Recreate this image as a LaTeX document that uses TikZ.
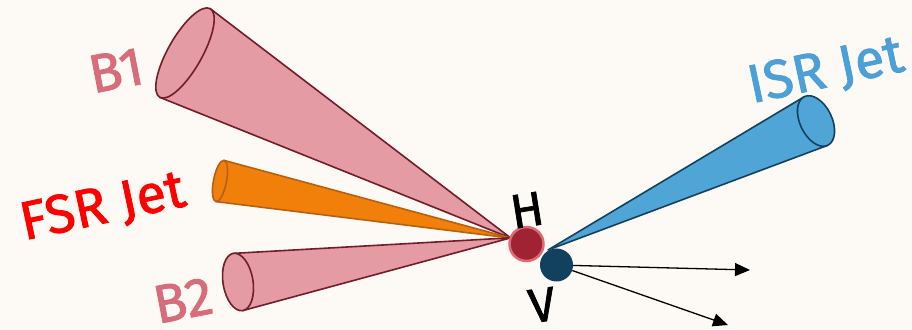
\documentclass[tikz,border=0pt]{standalone}
\usepackage{fontspec}
\setmainfont[FakeBold=1.5]{Fira Sans}
\usetikzlibrary{arrows.meta}
\definecolor{cream}{RGB}{253,249,245}
\definecolor{bpink}{RGB}{228,155,164}
\definecolor{bline}{RGB}{115,28,42}
\definecolor{btext}{RGB}{215,108,122}
\definecolor{fsrorange}{RGB}{240,128,10}
\definecolor{fsrline}{RGB}{182,96,16}
\definecolor{isrblue}{RGB}{80,165,215}
\definecolor{isrline}{RGB}{20,65,95}
\definecolor{isrtext}{RGB}{75,160,215}
\definecolor{hred}{RGB}{160,35,52}
\definecolor{hring}{RGB}{225,105,116}
\definecolor{vnavy}{RGB}{18,65,95}
\tikzset{
  bcone/.style   ={fill=bpink, draw=bline, line width=1.6pt, line join=round},
  fsrcone/.style ={fill=fsrorange, draw=fsrline, line width=1.6pt, line join=round},
  isrcone/.style ={fill=isrblue, draw=isrline, line width=1.6pt, line join=round},
  jetlabel/.style={font=\fontsize{54}{54}\selectfont, inner sep=0pt},
  hdot/.style    ={circle, fill=hred, draw=hring, line width=2.5pt, minimum size=34pt, inner sep=0pt},
  vdot/.style    ={circle, fill=vnavy, minimum size=33pt, inner sep=0pt},
  vecarr/.style  ={-{Triangle[length=15pt, width=13pt]}, line width=1.3pt, color=black},
}
\begin{document}
\begin{tikzpicture}[x=1pt, y=1pt]
\fill[cream] (0,0) rectangle (912,329);
\useasboundingbox (0,0) rectangle (912,329);

\coordinate (hapex) at (511,91);
\coordinate (israpex) at (548,79);

% b jets and FSR jet, all from the H
\begin{scope}[shift={(185,276)}, rotate=150.4]
  \filldraw[bcone] (-374.8,0) -- (0,51) -- (0,-51) -- cycle;
  \filldraw[bcone] (0,0) ellipse [x radius=17, y radius=51];
\end{scope}
\begin{scope}[shift={(220,148)}, rotate=168.9]
  \filldraw[fsrcone] (-296.5,0) -- (0,21) -- (0,-21) -- cycle;
  \filldraw[fsrcone] (0,0) ellipse [x radius=6.5, y radius=21];
\end{scope}
\begin{scope}[shift={(238,47)}, rotate=189.2]
  \filldraw[bcone] (-276.5,0) -- (0,29) -- (0,-29) -- cycle;
  \filldraw[bcone] (0,0) ellipse [x radius=15, y radius=29];
\end{scope}

% ISR jet from the V
\begin{scope}[shift={(816,208)}, rotate=25.7]
  \filldraw[isrcone] (-297.4,0) -- (0,27) -- (0,-27) -- cycle;
  \filldraw[isrcone] (0,0) ellipse [x radius=16, y radius=27];
\end{scope}

\node[hdot] (higgs) at (526.5,85) {};
\node[vdot] (vbos) at (556.5,64) {};

\coordinate (lep1) at (750,59);
\coordinate (lep2) at (728,4);
\draw[vecarr] (vbos) -- (lep1);
\draw[vecarr] (vbos) -- (lep2);

\node[jetlabel, text=btext, rotate=11] (b1lbl) at (116,259) {B1};
\node[jetlabel, text=red, rotate=12] (fsrlbl) at (103,121) {FSR Jet};
\node[jetlabel, text=btext, rotate=11] (b2lbl) at (183,29) {B2};
\node[jetlabel, text=isrtext, rotate=12] (isrlbl) at (826,257) {ISR Jet};
\node[jetlabel, font=\fontsize{48}{48}\selectfont, rotate=9] (hlbl) at (527,119) {H};
\node[jetlabel, font=\fontsize{48}{48}\selectfont, rotate=8] (vlbl) at (542,24) {V};
\end{tikzpicture}
\end{document}
